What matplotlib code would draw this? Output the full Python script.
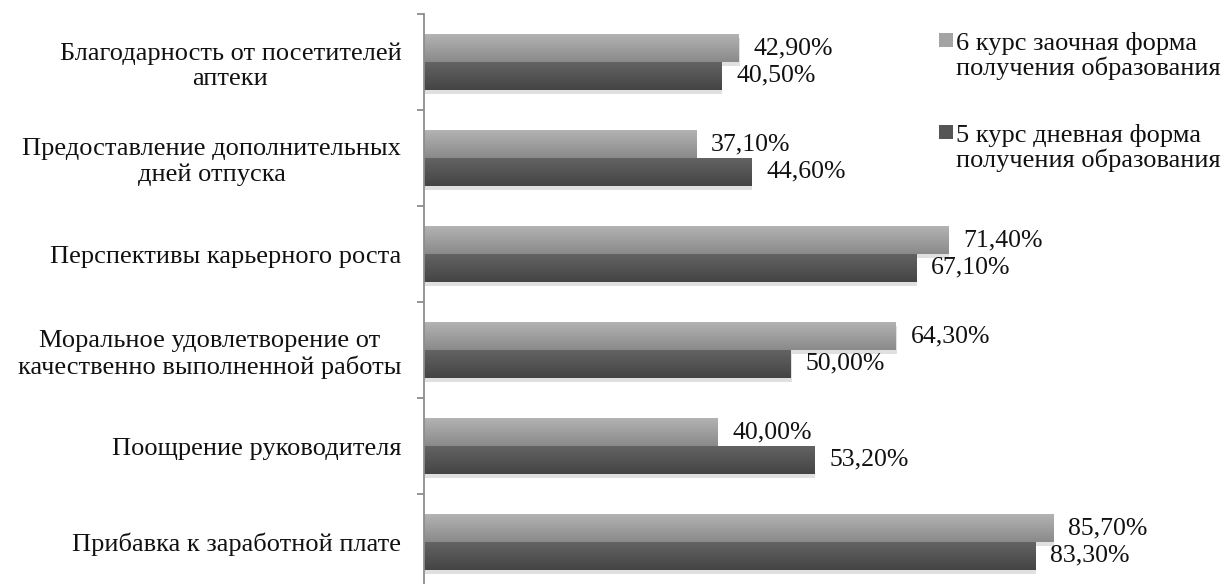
import numpy as np
import matplotlib
matplotlib.use("Agg")
import matplotlib.pyplot as plt
from matplotlib.colors import LinearSegmentedColormap
from matplotlib.patches import Rectangle
from matplotlib import patheffects as pe

plt.rcParams['font.family'] = ['Liberation Serif', 'DejaVu Serif']

categories = [
    "Благодарность от посетителей\nаптеки",
    "Предоставление дополнительных\nдней отпуска",
    "Перспективы карьерного роста",
    "Моральное удовлетворение от\nкачественно выполненной работы",
    "Поощрение руководителя",
    "Прибавка к заработной плате",
]
series_names = ["6 курс заочная форма\nполучения образования",
                "5 курс дневная форма\nполучения образования"]
zaoch_6 = [42.9, 37.1, 71.4, 64.3, 40.0, 85.7]
dnev_5 = [40.5, 44.6, 67.1, 50.0, 53.2, 83.3]

grads = [("#b3b3b3", "#8a8a8a"), ("#636363", "#444444")]
leg_colors = ["#a4a4a4", "#555555"]
W, H = 1230, 584

fig = plt.figure(figsize=(12.3, 5.84), dpi=100)
ax = fig.add_axes([423.5/W, -6/H, 1 - 423.5/W, 576/H])

y = np.arange(len(categories))
h = 0.29
XMAX = (W - 423.5) / 7.34

for k, vals in enumerate([zaoch_6, dnev_5]):
    off = -h / 2 if k == 0 else h / 2
    bars = ax.barh(y + off, vals, height=h, color=grads[k][1],
                   path_effects=[pe.SimplePatchShadow(offset=(1, -3), shadow_rgbFace='#999999', alpha=0.3),
                                 pe.Normal()])
    cmap = LinearSegmentedColormap.from_list("g%d" % k, list(grads[k]))
    grad = np.linspace(0, 1, 64).reshape(-1, 1)
    for b, v in zip(bars, vals):
        yy = b.get_y()
        im = ax.imshow(grad, cmap=cmap, aspect='auto', origin='upper',
                       extent=[0, v, yy + h, yy], zorder=2.5)
        im.set_clip_path(b)
        ax.annotate(f"{v:.2f}".replace(".", ",") + "%", (v, yy + h / 2),
                    xytext=(11, 0), textcoords='offset points',
                    va='center', ha='left', fontsize=18.5, color='#111111')

ax.set_xlim(0, XMAX)
ax.set_ylim(len(categories) - 0.5, -0.5)

for s in ['top', 'right', 'bottom']:
    ax.spines[s].set_visible(False)
ax.spines['left'].set_color('#8c8c8c')
ax.spines['left'].set_linewidth(1.3)
ax.set_xticks([])
ax.set_yticks(y)
ax.set_yticklabels(categories, fontsize=19, multialignment='center', color='#111111')
ax.tick_params(axis='y', which='major', length=0, pad=16)
ax.set_yticks(np.arange(-0.5, len(categories) + 0.5, 1), minor=True)
ax.tick_params(axis='y', which='minor', length=5, width=1.3, color='#8c8c8c')

# legend, drawn by hand so the square sits on the first text line
leg_line1 = [43, 135]
for k, name in enumerate(series_names):
    yc = leg_line1[k]
    fig.patches.append(Rectangle((939/W, 1 - (yc + 4)/H), 14/W, 14/H,
                                 transform=fig.transFigure, facecolor=leg_colors[k],
                                 edgecolor='none'))
    fig.text(956/W, 1 - (yc + 13)/H, name, va='center', ha='left', fontsize=19,
             linespacing=1.12, color='#111111')

fig.savefig("out.png", dpi=100)
